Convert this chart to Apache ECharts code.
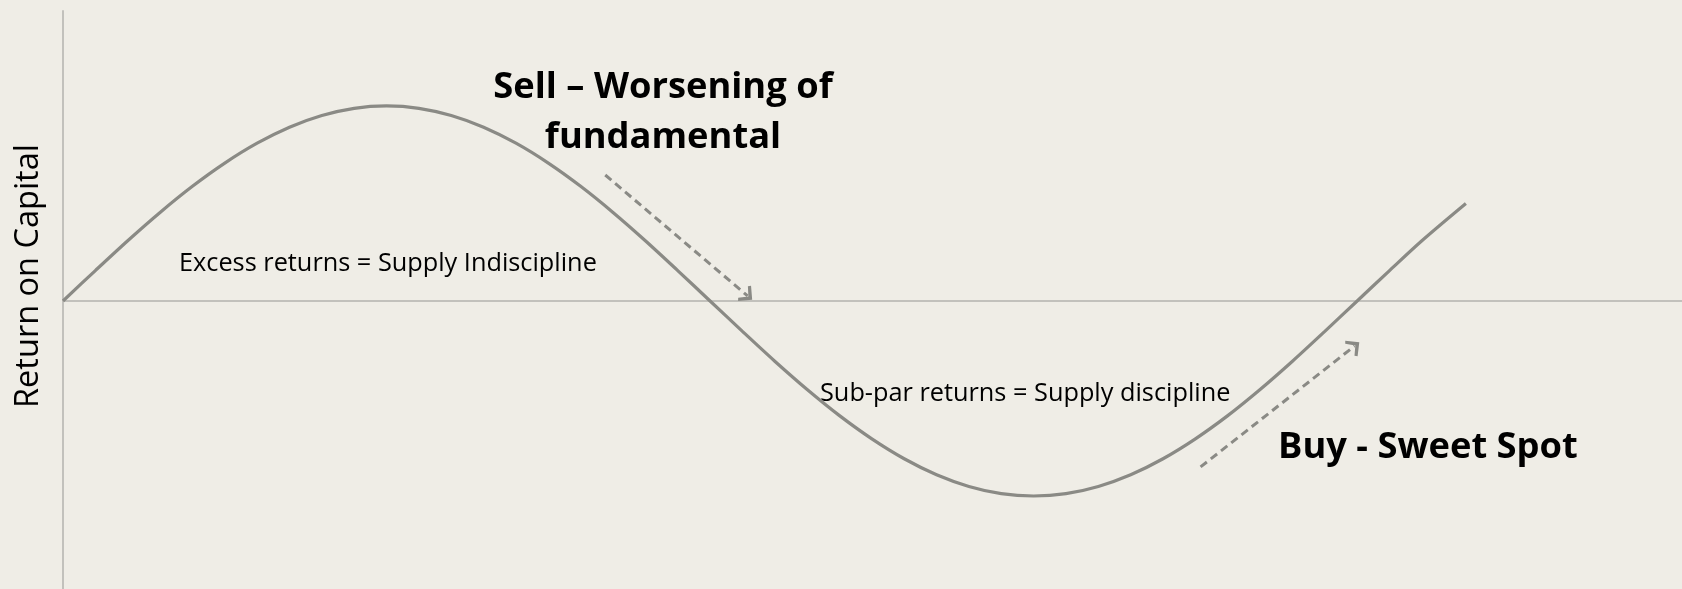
<!DOCTYPE html>
<html>
<head>
<meta charset="utf-8">
<title>Return on Capital cycle</title>
<script src="https://cdn.jsdelivr.net/npm/echarts@6/dist/echarts.min.js"></script>
<style>
  html, body { margin: 0; padding: 0; background: #efede6; }
  #chart { width: 1682px; height: 589px; }
</style>
</head>
<body>
<div id="chart"></div>
<script>
// Cycle position (one full cycle = 100) and return on capital (peak = 100)
const cyclePos = [0, 2.5, 5, 7.5, 10, 12.5, 15, 17.5, 20, 22.5, 25, 27.5, 30, 32.5, 35, 37.5, 40, 42.5, 45, 47.5,
  50, 52.5, 55, 57.5, 60, 62.5, 65, 67.5, 70, 72.5, 75, 77.5, 80, 82.5, 85, 87.5, 90, 92.5, 95, 97.5,
  100, 102.5, 105, 108.4]
const roc = [0, 15.6, 30.9, 45.4, 58.8, 70.7, 80.9, 89.1, 95.1, 98.8, 100, 98.8, 95.1, 89.1, 80.9, 70.7, 58.8, 45.4, 30.9, 15.6,
  0, -15.6, -30.9, -45.4, -58.8, -70.7, -80.9, -89.1, -95.1, -98.8, -100, -98.8, -95.1, -89.1, -80.9, -70.7, -58.8, -45.4, -30.9, -15.6,
  0, 15.6, 30.9, 50]

// Dashed arrows: [start, end] in the same units
const sellArrow = [[41.9, 64.6], [52.9, 2.6]]
const buyArrow = [[87.9, -85.1], [99.8, -23.1]]

const axisName = 'Return on Capital'
const excessLabel = 'Excess returns = Supply Indiscipline'
const subparLabel = 'Sub-par returns = Supply discipline'
const sellLabel = 'Sell – Worsening of\nfundamental'
const buyLabel = 'Buy - Sweet Spot'

const font = '"Open Sans", sans-serif'
const curveColor = '#8a8a85'
const axisColor = '#c2c1bc'

const chart = echarts.init(document.getElementById('chart'))

const chevron = 'path://M0,10 L10,0 L20,10 L17.5,12 L10,5 L2.5,12 Z'

chart.setOption({
  backgroundColor: '#efede6',
  animation: false,
  grid: { left: 63, right: 0, top: 11, bottom: 0 },
  xAxis: {
    type: 'value',
    min: 0,
    max: 125.1,
    axisLine: { onZero: true, lineStyle: { color: axisColor, width: 2 } },
    axisTick: { show: false },
    axisLabel: { show: false },
    splitLine: { show: false }
  },
  yAxis: {
    type: 'value',
    min: -147.7,
    max: 148.7,
    axisLine: { show: true, lineStyle: { color: axisColor, width: 2 } },
    axisTick: { show: false },
    axisLabel: { show: false },
    splitLine: { show: false }
  },
  series: [
    {
      type: 'line',
      data: cyclePos.map((x, i) => [x, roc[i]]),
      smooth: 0.3,
      showSymbol: false,
      lineStyle: { color: curveColor, width: 3.2 },
      markLine: {
        silent: true,
        symbol: ['none', chevron],
        symbolSize: [20, 12],
        label: { show: false },
        lineStyle: { color: '#8a8a85', width: 3, type: [8, 5] },
        data: [
          [{ coord: sellArrow[0] }, { coord: sellArrow[1] }],
          [{ coord: buyArrow[0] }, { coord: buyArrow[1] }]
        ]
      }
    }
  ],
  graphic: [
    {
      type: 'text', x: 29, y: 276, rotation: Math.PI / 2,
      style: { text: axisName, font: '32.5px ' + font, fill: '#000', align: 'center', verticalAlign: 'middle' }
    },
    {
      type: 'text', x: 179, y: 264,
      style: { text: excessLabel, font: '25.3px ' + font, fill: '#000', align: 'left', verticalAlign: 'middle' }
    },
    {
      type: 'text', x: 820, y: 394,
      style: { text: subparLabel, font: '25.3px ' + font, fill: '#000', align: 'left', verticalAlign: 'middle' }
    },
    {
      type: 'text', x: 663, y: 113,
      style: { text: sellLabel, font: 'bold 36.3px ' + font, lineHeight: 50, fill: '#000', align: 'center', verticalAlign: 'middle' }
    },
    {
      type: 'text', x: 1278, y: 448,
      style: { text: buyLabel, font: 'bold 36.3px ' + font, fill: '#000', align: 'left', verticalAlign: 'middle' }
    }
  ]
})
</script>
</body>
</html>
